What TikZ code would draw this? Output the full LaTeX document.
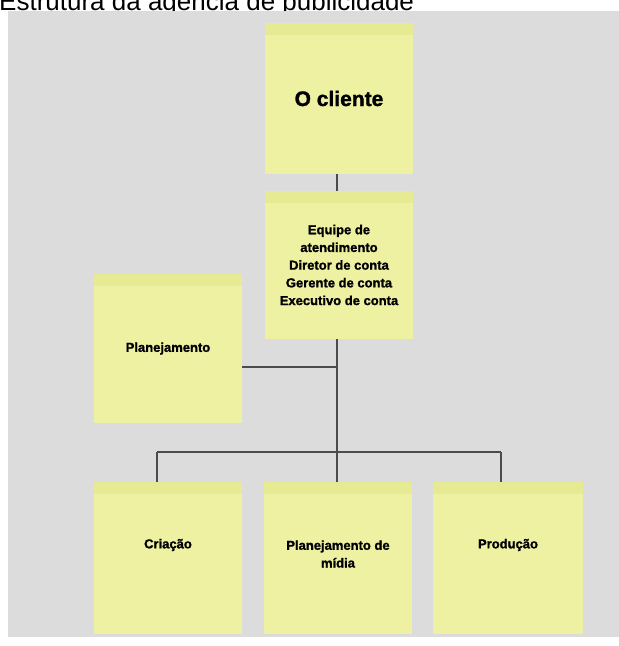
\documentclass[tikz,border=0pt]{standalone}
\usepackage{fontspec}
\setmainfont{Liberation Sans}
\newfontfamily\heavyfont{Liberation Sans}[BoldFeatures={FakeBold=1.3}]
\definecolor{bgwhite}{RGB}{255,255,255}
\definecolor{bggray}{RGB}{220,220,221}
\definecolor{noteyellow}{RGB}{238,240,162}
\definecolor{notestripe}{RGB}{230,234,146}
\definecolor{linkgray}{RGB}{75,75,75}
\tikzset{
  note/.style={fill=noteyellow, minimum width=148pt, inner sep=0pt, align=center,
    font=\heavyfont\bfseries\fontsize{13}{17.7}\selectfont,
    path picture={\fill[notestripe] (path picture bounding box.north west) rectangle ([yshift=-12pt]path picture bounding box.north east);}},
  notetext/.style={inner sep=0pt, align=center, font=\heavyfont\bfseries\fontsize{13}{17.7}\selectfont},
  link/.style={draw=linkgray, line width=1.2pt}
}
\begin{document}
\begin{tikzpicture}[x=1pt,y=-1pt]
\useasboundingbox (0,0) rectangle (619,646);
\fill[bgwhite] (0,0) rectangle (619,646);
\node[anchor=base west, inner sep=0pt, font=\fontsize{26}{30}\selectfont] (title) at (-1,10) {Estrutura da agência de publicidade};
\fill[bggray] (8,11) rectangle (619,637);

\node[note, minimum height=151pt, font=\heavyfont\bfseries\fontsize{21}{25}\selectfont] (cliente) at (339,98.5) {O cliente};
\node[note, minimum height=148pt] (atend) at (339,265) {Equipe de\\atendimento\\Diretor de conta\\Gerente de conta\\Executivo de conta};
\node[note, minimum height=149pt] (plan) at (168,348.5) {Planejamento};
\node[note, minimum height=152pt] (criacao) at (168,558) {};
\node[note, minimum height=152pt] (midia) at (338,558) {};
\node[note, minimum height=152pt, minimum width=150pt] (producao) at (508,558) {};
\node[notetext] (criacao-t) at (168,545) {Criação};
\node[notetext] (midia-t) at (338,554) {Planejamento de\\mídia};
\node[notetext] (producao-t) at (508,545) {Produção};

\coordinate (bus) at (337,452);
\coordinate (busl) at (157,452);
\coordinate (busr) at (501,452);
\coordinate (planj) at (337,367);

\draw[link] (cliente.south -| bus) -- (atend.north -| bus);
\draw[link] (atend.south -| bus) -- (bus);
\draw[link] (plan.east |- planj) -- (planj);
\draw[link] (busl) -- (busr);
\draw[link] (busl) -- (busl |- criacao.north);
\draw[link] (bus) -- (bus |- midia.north);
\draw[link] (busr) -- (busr |- producao.north);
\end{tikzpicture}
\end{document}
